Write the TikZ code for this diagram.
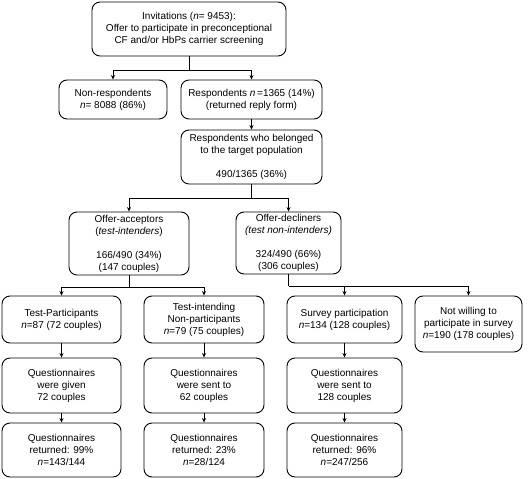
\documentclass[tikz,border=0pt]{standalone}
\usepackage{fontspec}
\setmainfont{Liberation Sans}
\usetikzlibrary{arrows.meta}
\begin{document}
\begin{tikzpicture}[x=1pt,y=-1pt,
  box/.style={draw,line width=0.9pt,rounded corners=8pt,align=center,inner sep=1pt,
    font=\fontsize{10}{12}\selectfont},
  arr/.style={line width=0.8pt,-{Stealth[length=4.5pt,width=4pt]}},
  ln/.style={line width=0.8pt}]
\useasboundingbox (0,0) rectangle (530,479);
\node[box,minimum width=194pt,minimum height=54pt] (top) at (189,29)
  {Invitations (\textit{n}= 9453):\\Offer to participate in preconceptional\\CF and/or HbPs carrier screening};
\node[box,minimum width=108pt,minimum height=39pt] (nonresp) at (113,99.5)
  {Non-respondents\\\textit{n}= 8088 (86\%)};
\node[box,minimum width=141pt,minimum height=39pt] (resp) at (251.5,99.5)
  {Respondents \textit{n}\,=1365 (14\%)\\(returned reply form)};
\node[box,minimum width=141pt,minimum height=54pt] (target) at (251.5,157)
  {Respondents who belonged\\to the target population\\[12pt]490/1365 (36\%)};
\node[box,minimum width=120pt,minimum height=63pt] (acc) at (129,243.5)
  {Offer-acceptors\\(\textit{test-intenders})\\[12pt]166/490 (34\%)\\(147 couples)};
\node[box,minimum width=105pt,minimum height=62pt] (dec) at (288.5,243)
  {Offer-decliners\\\textit{(test non-intenders)}\\[12pt]324/490 (66\%)\\(306 couples)};
\node[box,minimum width=119pt,minimum height=47pt] (tp) at (61.5,319.5)
  {Test-Participants\\\textit{n}=87 (72 couples)};
\node[box,minimum width=120pt,minimum height=47pt] (ti) at (204,319.5)
  {Test-intending\\Non-participants\\\textit{n}=79 (75 couples)};
\node[box,minimum width=115pt,minimum height=47pt] (sp) at (344.5,319.5)
  {Survey participation\\\textit{n}=134 (128 couples)};
\node[box,minimum width=107pt,minimum height=56pt] (nw) at (468.5,324)
  {Not willing to\\participate in survey\\\textit{n}=190 (178 couples)};
\node[box,minimum width=119pt,minimum height=55pt] (q1) at (61.5,385.5)
  {Questionnaires\\were given\\72 couples};
\node[box,minimum width=120pt,minimum height=55pt] (q2) at (204,385.5)
  {Questionnaires\\were sent to\\62 couples};
\node[box,minimum width=115pt,minimum height=55pt] (q3) at (344.5,385.5)
  {Questionnaires\\were sent to\\128 couples};
\node[box,minimum width=119pt,minimum height=54pt] (r1) at (61.5,450)
  {Questionnaires\\returned: 99\%\\\textit{n}=143/144};
\node[box,minimum width=120pt,minimum height=54pt] (r2) at (204,450)
  {Questionnaires\\returned: 23\%\\\textit{n}=28/124};
\node[box,minimum width=115pt,minimum height=54pt] (r3) at (344.5,450)
  {Questionnaires\\returned: 96\%\\\textit{n}=247/256};
% connectors
\coordinate (j1) at (top.south |- 0,70);
\draw[ln] (top.south) -- (j1);
\draw[arr] (j1) -| (nonresp.north);
\draw[arr] (j1) -| (resp.north);
\draw[arr] (resp.south) -- (target.north);
\coordinate (j2) at (target.south |- 0,198);
\draw[ln] (target.south) -- (j2);
\draw[arr] (j2) -| (acc.north);
\draw[arr] (j2) -| (dec.north);
\coordinate (j3) at (acc.south |- 0,287);
\draw[ln] (acc.south) -- (j3);
\draw[arr] (j3) -| (tp.north);
\draw[arr] (j3) -| (ti.north);
\coordinate (j4) at (dec.south |- 0,286);
\draw[ln] (dec.south) -- (j4);
\draw[arr] (j4) -| (sp.north);
\draw[arr] (j4) -| (nw.north);
\draw[arr] (tp.south) -- (q1.north);
\draw[arr] (ti.south) -- (q2.north);
\draw[arr] (sp.south) -- (q3.north);
\draw[arr] (q1.south) -- (r1.north);
\draw[arr] (q2.south) -- (r2.north);
\draw[arr] (q3.south) -- (r3.north);
\end{tikzpicture}
\end{document}
